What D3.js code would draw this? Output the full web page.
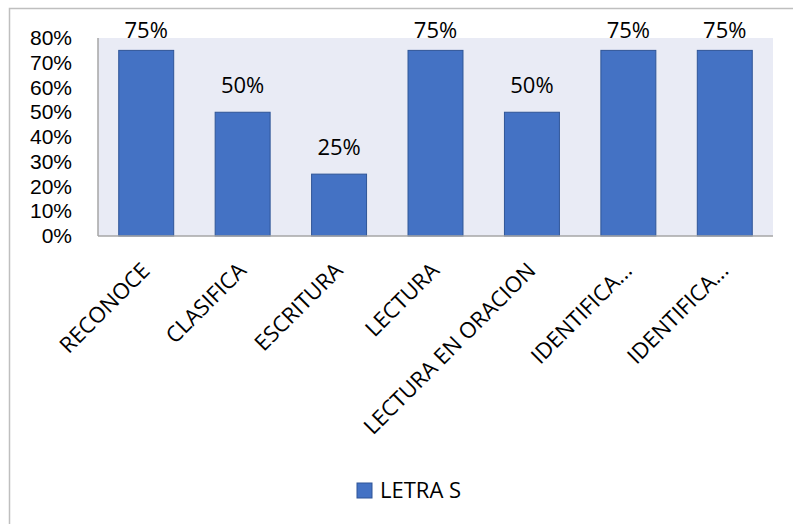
<!DOCTYPE html>
<html><head><meta charset="utf-8">
<script src="https://cdn.jsdelivr.net/npm/d3@7"></script>
<style>body{margin:0;background:#fff}svg{display:block}text{font-family:"Open Sans",sans-serif;fill:#000}</style>
</head><body>
<svg id="chart" width="793" height="524"></svg>
<script>
const categories = ["RECONOCE","CLASIFICA","ESCRITURA","LECTURA","LECTURA EN ORACION","IDENTIFICA...","IDENTIFICA..."];
const values = [0.75,0.50,0.25,0.75,0.50,0.75,0.75];
const seriesName = "LETRA S";
const yTicks = [0,0.1,0.2,0.3,0.4,0.5,0.6,0.7,0.8];

const svg = d3.select("#chart");
const pL = 98, pR = 773, pT = 38, pB = 236;
const fs = "22px";

// outer chart border
svg.append("rect").attr("x",9.5).attr("y",8.5).attr("width",800).attr("height",600)
  .attr("fill","#fff").attr("stroke","#bfbfbf").attr("stroke-width",1.5);

// plot area
svg.append("rect").attr("x",pL).attr("y",pT).attr("width",pR-pL).attr("height",pB-pT)
  .attr("fill","#e9ebf5");

const x = d3.scaleBand().domain(d3.range(categories.length)).range([pL,pR]).paddingInner(0.43).paddingOuter(0.215);
const y = d3.scaleLinear().domain([0,0.8]).range([pB,pT]);

// bars
svg.append("g").selectAll("rect").data(values).join("rect")
  .attr("x",(d,i)=>x(i)).attr("width",x.bandwidth())
  .attr("y",d=>y(d)).attr("height",d=>y(0)-y(d))
  .attr("fill","#4472c4").attr("stroke","#2f5597").attr("stroke-width",1);

// axes lines
svg.append("line").attr("x1",pL).attr("x2",pL).attr("y1",pT).attr("y2",pB)
  .attr("stroke","#a6a6a6").attr("stroke-width",1.5);
svg.append("line").attr("x1",pL).attr("x2",pR).attr("y1",pB).attr("y2",pB)
  .attr("stroke","#a6a6a6").attr("stroke-width",1.5);

// y axis labels
const yAxis = d3.axisLeft(y).tickValues(yTicks).tickFormat(d3.format(".0%")).tickSize(0).tickPadding(26);
const ya = svg.append("g").attr("transform",`translate(${pL},0)`).call(yAxis);
ya.select(".domain").remove();
ya.selectAll("text").style("font-family","'Liberation Sans',Arial,sans-serif").style("font-size","21px").attr("fill","#000");

// x axis labels
const xa = svg.append("g");
xa.selectAll("text").data(categories).join("text")
  .attr("transform",(d,i)=>`translate(${x(i)+x.bandwidth()/2+5},272) rotate(-45)`)
  .attr("text-anchor","end").style("font-size",fs).text(d=>d);

// data labels
svg.append("g").selectAll("text").data(values).join("text")
  .attr("x",(d,i)=>x(i)+x.bandwidth()/2)
  .attr("y",d=>Math.max(y(d)-19, pT))
  .attr("text-anchor","middle").style("font-size",fs)
  .text(d=>d3.format(".0%")(d));

// legend
const lg = svg.append("g").attr("transform","translate(357,483)");
lg.append("rect").attr("width",15).attr("height",15).attr("fill","#4472c4").attr("stroke","#2f5597");
lg.append("text").attr("x",23).attr("y",15).style("font-size",fs).text(seriesName);
</script>
</body></html>
